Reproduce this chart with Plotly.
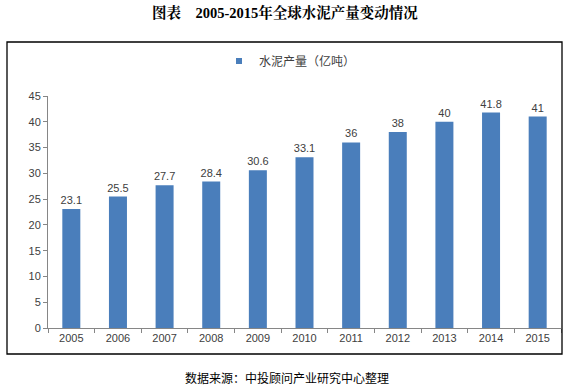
import plotly.graph_objects as go

years = ["2005", "2006", "2007", "2008", "2009", "2010", "2011", "2012", "2013", "2014", "2015"]
output = [23.1, 25.5, 27.7, 28.4, 30.6, 33.1, 36, 38, 40, 41.8, 41]
labels = ["23.1", "25.5", "27.7", "28.4", "30.6", "33.1", "36", "38", "40", "41.8", "41"]
series_name = "水泥产量（亿吨）"
title = "图表　2005-2015年全球水泥产量变动情况"
source = "数据来源：中投顾问产业研究中心整理"

W, H = 573, 391
L, R, T, B = 48, 561, 96, 328
pw, ph = R - L, B - T

def px(x):
    return (x - L) / pw

def py(y):
    return (B - y) / ph

num_font = "Liberation Sans, Arial, sans-serif"

fig = go.Figure()
fig.add_trace(go.Bar(
    x=years, y=output, name=series_name, showlegend=False,
    marker=dict(color="#4A7EBB", line=dict(width=0)),
    text=labels, textposition="outside", constraintext="none",
    textfont=dict(size=11, color="#404040", family=num_font),
    cliponaxis=False,
))
# legend entry (small square marker like the reference)
fig.add_trace(go.Scatter(
    x=[None], y=[None], mode="markers", name=series_name,
    marker=dict(symbol="square", size=6, color="#4A7EBB"),
))

fig.update_layout(
    width=W, height=H,
    margin=dict(l=L, r=W - R, t=T, b=H - B),
    paper_bgcolor="white", plot_bgcolor="white",
    bargap=0.614,
    showlegend=True,
    legend=dict(orientation="h", x=px(290), xanchor="center", y=py(61), yanchor="middle",
                font=dict(size=12, color="#404040", family="Noto Sans CJK SC"),
                itemwidth=30, bgcolor="rgba(0,0,0,0)"),
    xaxis=dict(type="category", showline=True, linecolor="#868686", linewidth=1,
               ticks="outside", tickson="boundaries", ticklen=4, tickcolor="#868686",
               tickfont=dict(size=11, color="#404040", family=num_font),
               showgrid=False),
    yaxis=dict(range=[0, 45], dtick=5, showline=True, linecolor="#868686", linewidth=1,
               ticks="outside", ticklen=4, tickcolor="#868686", showgrid=False, zeroline=False,
               tickfont=dict(size=11, color="#404040", family=num_font)),
    shapes=[dict(type="rect", xref="paper", yref="paper",
                 x0=px(7), x1=px(562), y0=py(354), y1=py(42),
                 line=dict(color="black", width=1.3), fillcolor="rgba(0,0,0,0)")],
    annotations=[
        dict(text="<b>" + title + "</b>", xref="paper", yref="paper", x=px(285), y=py(13),
             xanchor="center", yanchor="middle", showarrow=False,
             font=dict(size=14.5, color="black", family="Liberation Serif, Noto Serif CJK SC, Noto Sans CJK SC")),
        dict(text=source, xref="paper", yref="paper", x=px(287), y=py(377),
             xanchor="center", yanchor="middle", showarrow=False,
             font=dict(size=12, color="black", family="Noto Sans CJK SC")),
    ],
)

fig.write_html("out.html", config={"displayModeBar": False},
               post_script="document.body.style.margin='0';document.body.style.padding='0';")
